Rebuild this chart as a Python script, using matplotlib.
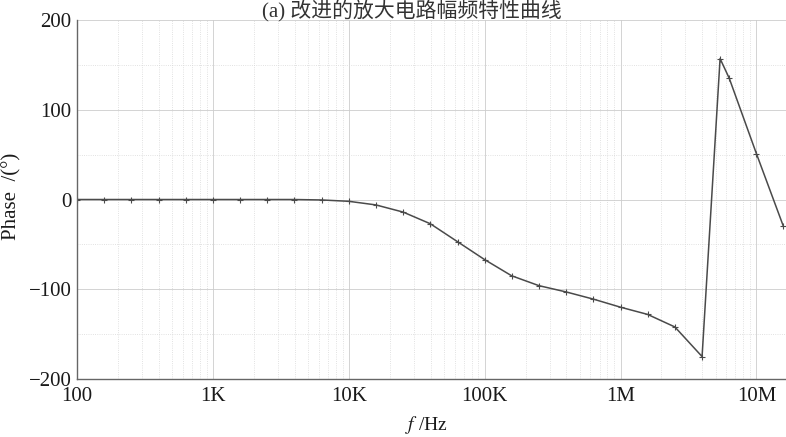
import matplotlib.pyplot as plt
import matplotlib.ticker as mticker

# frequency points (Hz) and phase (deg)
freq = [100, 158, 251, 398, 631, 1e3, 1.58e3, 2.51e3, 3.98e3, 6.31e3,
        1e4, 1.58e4, 2.51e4, 3.98e4, 6.31e4, 1e5, 1.58e5, 2.51e5, 3.98e5, 6.31e5,
        1e6, 1.58e6, 2.51e6, 3.98e6, 5.4e6, 6.31e6, 1e7, 1.58e7]
phase = [0, 0, 0, 0, 0, 0, 0, 0, 0, -0.5,
         -2, -6, -14, -27, -47, -67, -85, -96, -103, -111,
         -120, -128, -142, -175, 157, 135, 51, -30]

xticks = [1e2, 1e3, 1e4, 1e5, 1e6, 1e7]
xlabels = ['100', '1K', '10K', '100K', '1M', '10M']
yticks = [-200, -100, 0, 100, 200]

plt.rcParams['font.family'] = ['Liberation Serif', 'Noto Sans CJK SC']
plt.rcParams['mathtext.fontset'] = 'stix'
plt.rcParams['axes.unicode_minus'] = True

fig = plt.figure(figsize=(7.86, 4.37), dpi=100)
ax = fig.add_axes([0.098, 0.1327, 0.902, 0.8215])

ax.plot(freq, phase, color='#4a4a4a', lw=1.1, marker='+', ms=4, mew=0.8)

ax.set_xscale('log')
ax.set_xlim(100, 1.65e7)
ax.set_ylim(-200, 200)
ax.set_xticks(xticks)
ax.set_xticklabels(xlabels)
ax.xaxis.set_minor_locator(mticker.LogLocator(base=10, subs=range(2, 10)))
ax.xaxis.set_minor_formatter(mticker.NullFormatter())
ax.set_yticks(yticks)
ax.yaxis.set_minor_locator(mticker.MultipleLocator(50))

ax.tick_params(which='both', length=0, labelsize=15, colors='#1a1a1a')
ax.tick_params(axis='x', pad=6)
ax.tick_params(axis='y', pad=4)
ax.grid(which='major', color='#cccccc', lw=0.6)
ax.grid(which='minor', color='#d8d8d8', lw=0.6, ls=':')

for s in ['top', 'right']:
    ax.spines[s].set_visible(False)
for s in ['left', 'bottom']:
    ax.spines[s].set_color('#666666')
    ax.spines[s].set_linewidth(1.0)

ax.set_ylabel('Phase  /(°)', fontsize=15, color='#1a1a1a')
ax.yaxis.set_label_coords(-0.078, 0.51)
fig.text(0.542, 0.003, '$f$ /Hz', fontsize=14, ha='center', va='bottom',
         color='#1a1a1a')
fig.text(0.524, 0.998, '(a) 改进的放大电路幅频特性曲线', fontsize=15,
         ha='center', va='top', color='#333333')

fig.savefig('out.png', dpi=100)
